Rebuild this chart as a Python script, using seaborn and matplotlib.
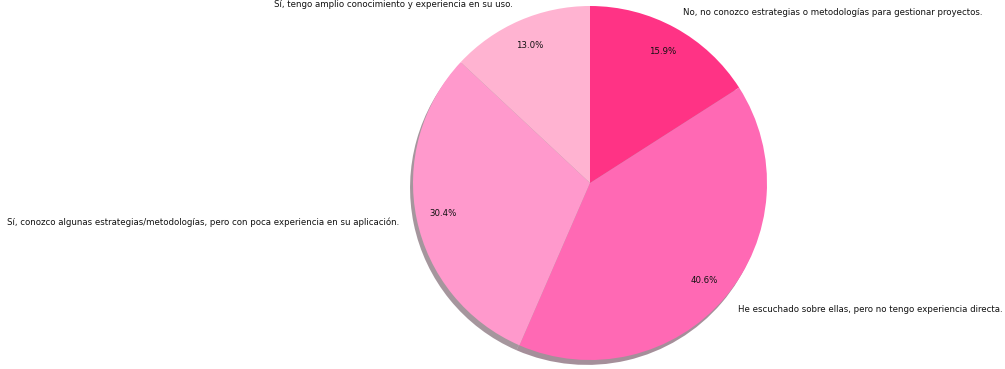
import matplotlib
matplotlib.use("Agg")
import matplotlib.pyplot as plt
import seaborn as sns

categories = [
    "No, no conozco estrategias o metodologías para gestionar proyectos.",
    "He escuchado sobre ellas, pero no tengo experiencia directa.",
    "Sí, conozco algunas estrategias/metodologías, pero con poca experiencia en su aplicación.",
    "Sí, tengo amplio conocimiento y experiencia en su uso.",
]
counts = [11, 28, 21, 9]
colors = ["#ff3385", "#ff69b4", "#ff99cc", "#ffb3d1"]

sns.set_theme(style="white")
plt.rcParams["font.family"] = ["DejaVu Sans"]

W, H = 1005, 369
fig = plt.figure(figsize=(W / 100, H / 100), dpi=100)
ax = fig.add_axes([0, 0, 1, 1])
palette = sns.color_palette(colors)
wedges, texts, autotexts = ax.pie(
    counts,
    labels=categories,
    colors=palette,
    autopct="%1.1f%%",
    startangle=90,
    counterclock=False,
    shadow={"ox": -0.012, "oy": -0.02, "edgecolor": "none"},
    pctdistance=0.85,
    labeldistance=1.1,
    wedgeprops={"linewidth": 0, "edgecolor": "none"},
    textprops={"fontsize": 6.2, "color": "#111111"},
)
cx, cy, r = 590, 183, 177
ax.set_xlim(-cx / r, (W - cx) / r)
ax.set_ylim(-(H - cy) / r, cy / r)
ax.set_aspect("auto")
ax.axis("off")
fig.savefig("out.png", dpi=100)
